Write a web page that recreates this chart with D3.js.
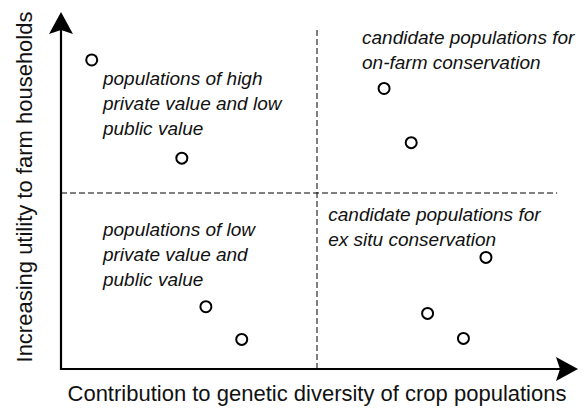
<!DOCTYPE html>
<meta charset="utf-8">
<style>
  body { margin: 0; background: #fff; }
  .title { font: 22px "Liberation Sans", Arial, sans-serif; fill: #111; }
  .label { font: italic 19px "Liberation Sans", Arial, sans-serif; fill: #111; }
</style>
<svg width="584" height="408"></svg>
<script src="https://d3js.org/d3.v7.min.js"></script>
<script>

  // population points (x = contribution to diversity, y = utility to households)
  var popX = [6.0, 23.6, 63.1, 68.4, 28.3, 35.3, 83.0, 71.6, 78.6];
  var popY = [87.8, 59.9, 79.7, 64.3, 17.7, 8.4, 31.7, 15.8, 8.7];

  // quadrant labels
  var quadLabels = [
    ["populations of high", "private value and low", "public value"],
    ["candidate populations for", "on-farm conservation"],
    ["populations of low", "private value and", "public value"],
    ["candidate populations for", "ex situ conservation"]
  ];
  var quadX = [8.2, 58.8, 8.2, 52.2];
  var quadY = [80.6, 92.3, 37.8, 42.1];

  var xTitle = "Contribution to genetic diversity of crop populations";
  var yTitle = "Increasing utility to farm households";
  var divider = 50;

  var svg = d3.select("svg");

  var x = d3.scaleLinear().domain([0, 100]).range([61, 573]);
  var y = d3.scaleLinear().domain([0, 100]).range([369, 17]);

  // dashed quadrant lines
  svg.append("line")
    .attr("x1", x(divider)).attr("x2", x(divider))
    .attr("y1", y(0)).attr("y2", y(97.2))
    .attr("stroke", "#000").attr("stroke-width", 1)
    .attr("stroke-dasharray", "6,3");

  svg.append("line")
    .attr("x1", x(0)).attr("x2", x(96.9))
    .attr("y1", y(divider)).attr("y2", y(divider))
    .attr("stroke", "#000").attr("stroke-width", 1)
    .attr("stroke-dasharray", "6,3");

  // axes with arrowheads
  var x0 = x(0), y0 = y(0);
  svg.append("path")
    .attr("d", "M" + x0 + "," + (y0 + 1) + "V30 M" + (x0 - 1) + "," + y0 + "H560")
    .attr("stroke", "#000").attr("stroke-width", 2.2).attr("fill", "none");

  svg.append("path")
    .attr("d", "M" + x0 + ",12 L" + (x0 + 12) + ",34 L" + x0 + ",30 L" + (x0 - 12) + ",34 Z")
    .attr("fill", "#000");
  svg.append("path")
    .attr("d", "M578," + y0 + " L556," + (y0 - 12) + " L560," + y0 + " L556," + (y0 + 12) + " Z")
    .attr("fill", "#000");

  // points
  svg.selectAll("circle")
    .data(popX)
    .enter().append("circle")
      .attr("cx", function(d) { return x(d); })
      .attr("cy", function(d, i) { return y(popY[i]); })
      .attr("r", 5.5)
      .attr("fill", "#fff")
      .attr("stroke", "#000")
      .attr("stroke-width", 2);

  // quadrant labels
  quadLabels.forEach(function(lines, i) {
    var t = svg.append("text")
      .attr("class", "label")
      .attr("x", x(quadX[i]))
      .attr("y", y(quadY[i]));
    lines.forEach(function(s, j) {
      t.append("tspan")
        .attr("x", x(quadX[i]))
        .attr("dy", j === 0 ? 0 : 25)
        .text(s);
    });
  });

  // axis titles
  svg.append("text")
    .attr("class", "title")
    .attr("x", 317)
    .attr("y", 401)
    .attr("text-anchor", "middle")
    .text(xTitle);

  svg.append("text")
    .attr("class", "title")
    .attr("transform", "translate(32,187) rotate(-90)")
    .attr("text-anchor", "middle")
    .text(yTitle);

</script>
